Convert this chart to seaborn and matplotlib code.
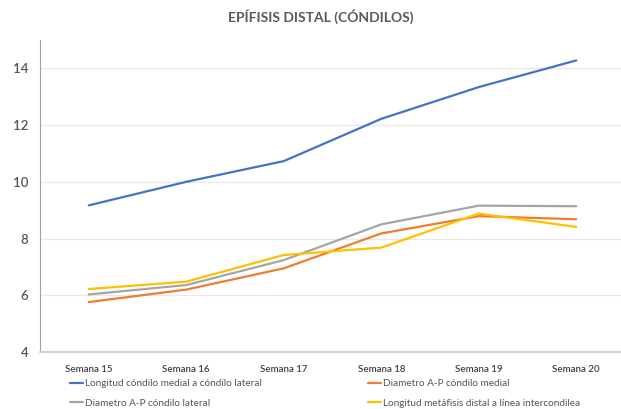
import matplotlib
matplotlib.use("Agg")
import matplotlib.pyplot as plt
import seaborn as sns
import pandas as pd
from matplotlib.lines import Line2D

weeks = ["Semana 15", "Semana 16", "Semana 17", "Semana 18", "Semana 19", "Semana 20"]
series_names = [
    "Longitud cóndilo medial a cóndilo lateral",
    "Diametro A-P cóndilo medial",
    "Diametro A-P cóndilo lateral",
    "Longitud metáfisis distal a línea intercondilea",
]
longitud_condilos = [9.17, 10.0, 10.73, 12.22, 13.34, 14.28]
diametro_medial = [5.76, 6.2, 6.95, 8.18, 8.79, 8.68]
diametro_lateral = [6.03, 6.36, 7.24, 8.5, 9.16, 9.14]
longitud_metafisis = [6.22, 6.48, 7.42, 7.68, 8.88, 8.41]
colors = ["#4472C4", "#ED7D31", "#A5A5A5", "#FFC000"]

values = [longitud_condilos, diametro_medial, diametro_lateral, longitud_metafisis]
rows = []
for name, vals in zip(series_names, values):
    for w, v in zip(weeks, vals):
        rows.append({"Semana": w, "Serie": name, "Valor": v})
df = pd.DataFrame(rows)

sns.set_style("white")
plt.rcParams["font.family"] = ["Lato", "DejaVu Sans"]

fig = plt.figure(figsize=(6.21, 4.09), dpi=100)
W, H = 621, 409
ax = fig.add_axes([40 / W, 1 - 352 / H, 585 / W, 312 / H])

sns.lineplot(data=df, x="Semana", y="Valor", hue="Serie", hue_order=series_names,
             palette=colors, linewidth=1.6, ax=ax, legend=False, sort=False)

ax.set_xlim(-0.5, 5.5)
ax.set_ylim(4, 15)
ax.set_yticks([4, 6, 8, 10, 12, 14])
ax.set_xlabel("")
ax.set_ylabel("")
ax.grid(axis="y", color="#E8E8E8", linewidth=0.9)
ax.set_axisbelow(True)
for s in ["top", "right"]:
    ax.spines[s].set_visible(False)
ax.spines["left"].set_color("#A0A0A0")
ax.spines["bottom"].set_color("#C8C8C8")
ax.spines["bottom"].set_linewidth(1.2)
ax.tick_params(axis="y", length=0, labelsize=9.5, labelcolor="#555555", pad=8.5)
ax.tick_params(axis="x", length=0, labelsize=7, labelcolor="#404040", pad=9)
for t in ax.get_xticklabels():
    t.set_fontweight("semibold")
for t in ax.get_yticklabels():
    t.set_fontweight("semibold")

fig.text(321 / W, 1 - 17 / H, "EPÍFISIS DISTAL (CÓNDILOS)", ha="center", va="center",
         fontsize=10, fontweight="bold", color="#595959")

def make_legend(idx, x):
    handles = [Line2D([0], [0], color=colors[i], linewidth=1.6) for i in idx]
    labels = [series_names[i] for i in idx]
    leg = fig.legend(handles, labels, loc="upper left", bbox_to_anchor=(x / W, 1 - 379 / H),
                     frameon=False, fontsize=7.2, handlelength=1.3, handletextpad=0.2,
                     labelspacing=1.05, borderpad=0, borderaxespad=0, labelcolor="#555555")
    return leg

make_legend([0, 2], 70)
make_legend([1, 3], 368)

fig.savefig("out.png", dpi=100)
